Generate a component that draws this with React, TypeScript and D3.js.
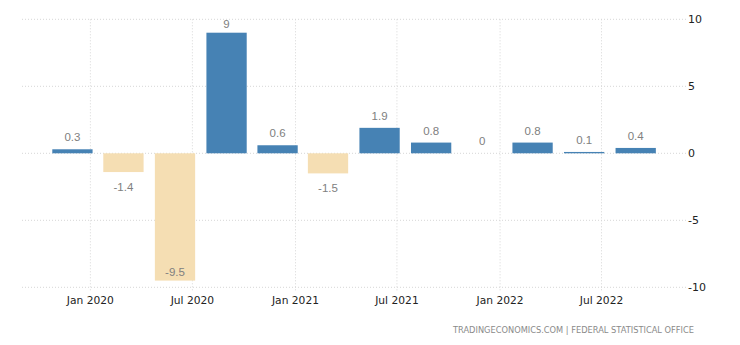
import React from "react";
import * as d3 from "d3";

const dates = [
  "2019-11-30", "2020-02-29", "2020-05-31", "2020-08-31",
  "2020-11-30", "2021-02-28", "2021-05-31", "2021-08-31",
  "2021-11-30", "2022-02-28", "2022-05-31", "2022-08-31",
];
const values = [0.3, -1.4, -9.5, 9, 0.6, -1.5, 1.9, 0.8, 0, 0.8, 0.1, 0.4];
const valueLabels = ["0.3", "-1.4", "-9.5", "9", "0.6", "-1.5", "1.9", "0.8", "0", "0.8", "0.1", "0.4"];
const yTicks = [-10, -5, 0, 5, 10];
const domainStart = "2019-09-01";
const domainEnd = "2022-11-30";
const source = "TRADINGECONOMICS.COM  |  FEDERAL STATISTICAL OFFICE";

const W = 740;
const H = 345;
const plotLeft = 22;
const plotRight = 686.7;
const plotTop = 19.3;
const plotBottom = 287.3;

export default function App() {
  const parse = d3.utcParse("%Y-%m-%d");
  const x = d3
    .scaleUtc()
    .domain([parse(domainStart) as Date, parse(domainEnd) as Date])
    .range([plotLeft, plotRight]);
  const y = d3.scaleLinear().domain([-10, 10]).range([plotBottom, plotTop]);
  const xTicks = x.ticks(d3.utcMonth.every(6) as any);
  const fmt = d3.utcFormat("%b %Y");
  const pts = dates.map((d) => parse(d) as Date);
  const step = x(pts[1]) - x(pts[0]);
  const bw = step * 0.79;
  const grid = "#d6d6d6";

  return (
    <svg
      width={W}
      height={H}
      style={{ position: "absolute", left: 0, top: 0, background: "#fff" }}
    >
      {yTicks.map((t) => (
        <line
          key={"h" + t}
          x1={plotLeft}
          x2={plotRight}
          y1={y(t)}
          y2={y(t)}
          stroke={grid}
          strokeWidth={1}
          strokeDasharray="1,2"
        />
      ))}
      {xTicks.map((t, i) => (
        <line
          key={"v" + i}
          x1={x(t)}
          x2={x(t)}
          y1={plotTop}
          y2={plotBottom + 5}
          stroke={grid}
          strokeWidth={1}
          strokeDasharray="1,2"
        />
      ))}
      {values.map((v, i) => {
        const cx = x(pts[i]);
        const y0 = y(0);
        const yv = y(v);
        return (
          <rect
            key={"b" + i}
            x={cx - bw / 2}
            y={Math.min(y0, yv)}
            width={bw}
            height={Math.abs(yv - y0)}
            fill={v >= 0 ? "#4682B4" : "#F5DEB3"}
          />
        );
      })}
      {values.map((v, i) => {
        const cx = x(pts[i]);
        const yv = y(v);
        const by = v >= 0 ? Math.max(yv - 8, plotTop + 9) : Math.min(yv + 18.5, plotBottom - 11);
        return (
          <text
            key={"l" + i}
            x={cx}
            y={by}
            textAnchor="middle"
            fontFamily="'Liberation Sans', Arial, sans-serif"
            fontSize={11.5}
            fill="#808080"
          >
            {valueLabels[i]}
          </text>
        );
      })}
      {yTicks.map((t) => (
        <text
          key={"yl" + t}
          x={688}
          y={y(t)}
          dy="0.35em"
          fontFamily="'DejaVu Sans', sans-serif"
          fontSize={11}
          fill="#222"
        >
          {t}
        </text>
      ))}
      {xTicks.map((t, i) => (
        <text
          key={"xl" + i}
          x={x(t)}
          y={303.5}
          textAnchor="middle"
          fontFamily="'DejaVu Sans', sans-serif"
          fontSize={10.7}
          fill="#222"
        >
          {fmt(t)}
        </text>
      ))}
      <text
        x={694}
        y={333}
        textAnchor="end"
        fontFamily="'DejaVu Sans', sans-serif"
        fontSize={8.3}
        fill="#8a8a8a"
        textLength={241}
        lengthAdjust="spacingAndGlyphs"
      >
        {source}
      </text>
    </svg>
  );
}
